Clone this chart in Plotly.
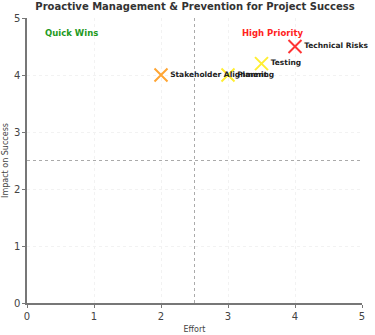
import plotly.graph_objects as go

tasks = ["Stakeholder Alignment", "Planning", "Testing", "Technical Risks"]
effort = [2, 3, 3.5, 4]
impact = [4, 4, 4.2, 4.5]
colors = ["#FFA533", "#FFEE33", "#FFEE33", "#FF3333"]
ticks = [0, 1, 2, 3, 4, 5]

fig = go.Figure()
fig.add_trace(go.Scatter(
    x=effort, y=impact, mode="markers+text",
    text=tasks, textposition="middle right",
    textfont=dict(family="DejaVu Sans", size=7.5, color="#222222", weight="bold"),
    marker=dict(symbol="x-thin", size=13, color=colors,
                line=dict(width=2, color=colors)),
    showlegend=False, cliponaxis=False))

fig.add_shape(type="line", x0=2.5, x1=2.5, y0=0, y1=5, xref="x", yref="y",
              line=dict(color="#AAAAAA", width=1, dash="dot"))
fig.add_shape(type="line", x0=0, x1=5, y0=2.5, y1=2.5, xref="x", yref="y",
              line=dict(color="#AAAAAA", width=1, dash="dot"))

fig.add_annotation(x=0.67, y=4.74, text="<b>Quick Wins</b>", showarrow=False,
                   font=dict(family="DejaVu Sans", size=8.5, color="#1E9A1E"))
fig.add_annotation(x=3.67, y=4.74, text="<b>High Priority</b>", showarrow=False,
                   font=dict(family="DejaVu Sans", size=8.5, color="#FF2222"))

axis_common = dict(range=[0, 5], tickvals=ticks, showgrid=True,
                   gridcolor="#F2F2F2", griddash="dot", zeroline=False,
                   showline=True, linecolor="#777777", linewidth=1.5,
                   ticks="outside", ticklen=3, tickcolor="#777777",
                   automargin=False,
                   tickfont=dict(family="DejaVu Sans", size=10, color="#444444"))

fig.update_layout(
    width=375, height=335,
    margin=dict(l=27, r=13, t=18, b=32),
    paper_bgcolor="white", plot_bgcolor="white",
    title=dict(text="<b>Proactive Management & Prevention for Project Success</b>",
               x=0.52, xanchor="center", y=0.99, yanchor="top",
               font=dict(family="DejaVu Sans", size=10, color="#333333")),
    xaxis=dict(**axis_common, title=dict(text="Effort", standoff=6,
               font=dict(family="DejaVu Sans", size=8, color="#444444"))),
    yaxis=dict(**axis_common, title=dict(text="Impact on Success", standoff=4,
               font=dict(family="DejaVu Sans", size=8, color="#444444"))),
)

fig.write_html("out.html")
